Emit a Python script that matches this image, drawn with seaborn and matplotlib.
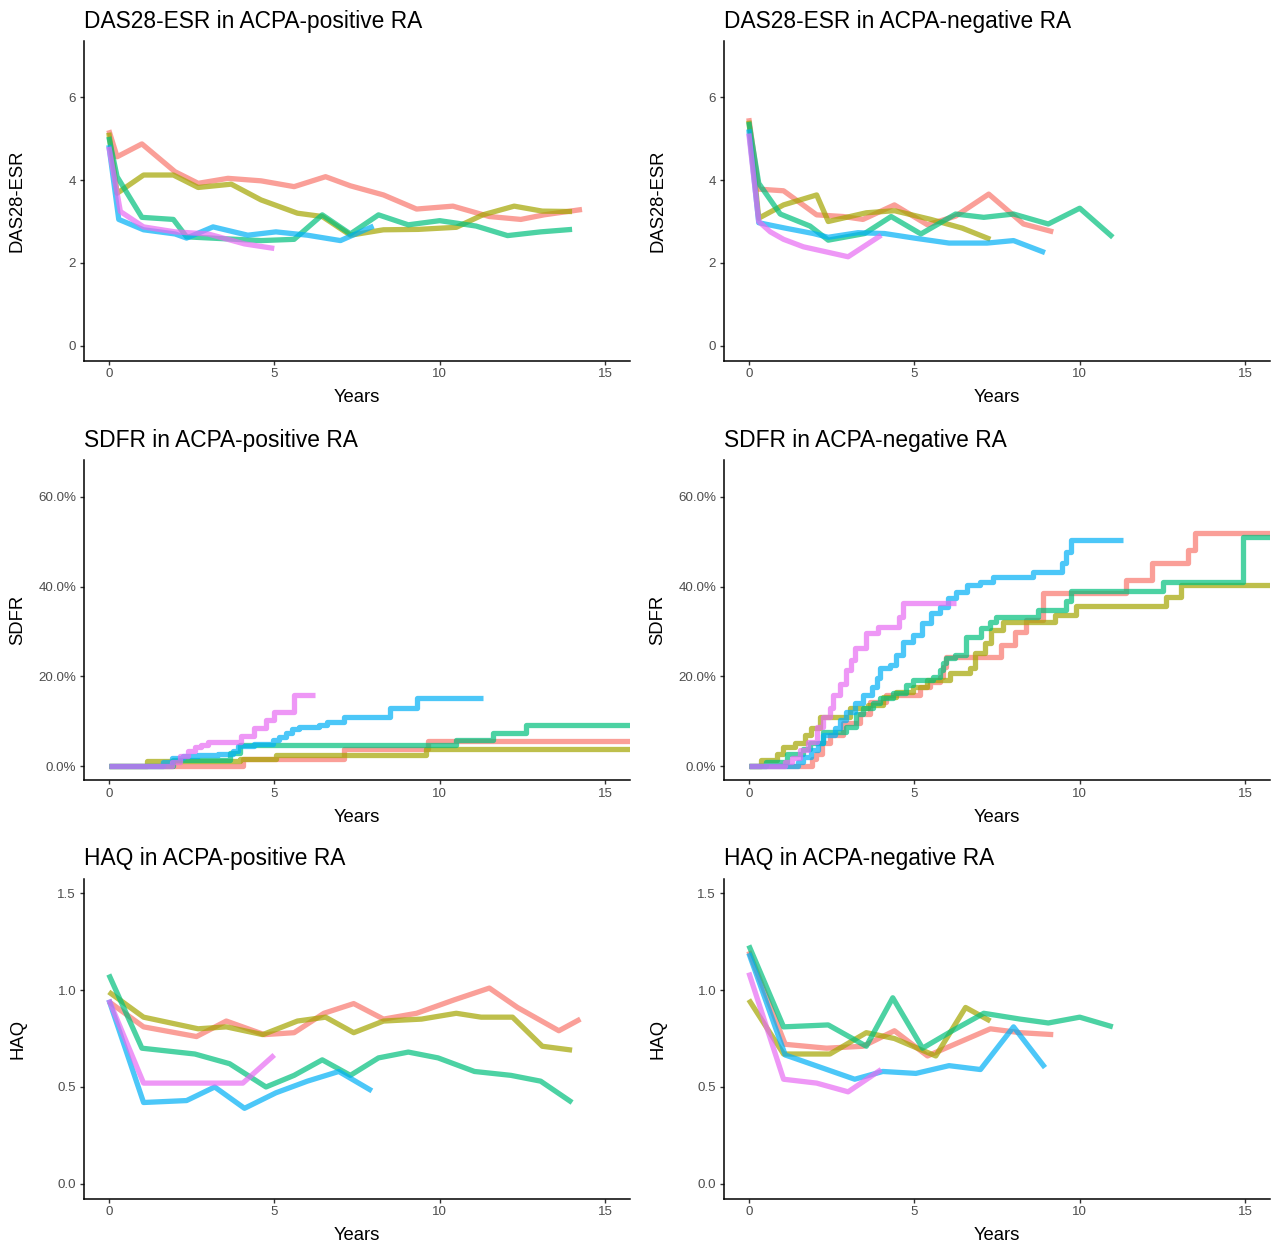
import numpy as np
import pandas as pd
import matplotlib
matplotlib.use("Agg")
import matplotlib.pyplot as plt
import matplotlib.ticker as mticker
import seaborn as sns

sns.set_style("white")
plt.rcParams.update(
    {
        "font.family": ["Liberation Sans", "DejaVu Sans"],
        "lines.solid_capstyle": "butt",
        "lines.solid_joinstyle": "round",
        "axes.linewidth": 1.1,
        "xtick.major.size": 3.2,
        "ytick.major.size": 3.2,
        "xtick.major.width": 1.0,
        "ytick.major.width": 1.0,
        "xtick.color": "#333333",
        "ytick.color": "#333333",
        "xtick.labelcolor": "#4D4D4D",
        "ytick.labelcolor": "#4D4D4D",
        "xtick.major.pad": 2.5,
        "ytick.major.pad": 2.5,
    }
)

# ── Palette (ggplot default hue, 5 groups) ───────────────────────────────────
GROUPS = ["Group 1", "Group 2", "Group 3", "Group 4", "Group 5"]
PAL = dict(zip(GROUPS, ["#F8766D", "#A3A500", "#00BF7D", "#00B0F6", "#E76BF3"]))

# ── DAS28-ESR, ACPA-positive ─────────────────────────────────────────────────
das_pos_t = [
    [0, 0.25, 1.0, 2.0, 2.7, 3.6, 4.6, 5.6, 6.55, 7.3, 8.3, 9.3, 10.4, 11.5, 12.45, 13.15, 14.3],
    [0, 0.25, 1.05, 1.95, 2.7, 3.7, 4.6, 5.7, 6.45, 7.3, 8.3, 9.35, 10.5, 11.3, 12.25, 13.1, 14.0],
    [0, 0.25, 1.0, 1.95, 2.35, 4.6, 5.6, 6.45, 7.3, 8.15, 9.05, 10.0, 11.1, 12.05, 13.05, 14.0],
    [0, 0.3, 1.05, 2.0, 2.35, 3.15, 4.2, 5.05, 6.0, 7.0, 8.0],
    [0, 0.35, 1.05, 2.0, 3.0, 4.1, 5.0],
]
das_pos_v = [
    [5.2, 4.56, 4.87, 4.2, 3.92, 4.04, 3.98, 3.84, 4.08, 3.86, 3.64, 3.30, 3.37, 3.12, 3.05, 3.16, 3.29],
    [5.14, 3.68, 4.12, 4.12, 3.82, 3.90, 3.52, 3.20, 3.12, 2.67, 2.80, 2.81, 2.86, 3.16, 3.37, 3.25, 3.24],
    [5.04, 4.08, 3.10, 3.05, 2.63, 2.54, 2.57, 3.16, 2.70, 3.16, 2.92, 3.02, 2.89, 2.66, 2.75, 2.81],
    [4.84, 3.05, 2.80, 2.70, 2.60, 2.87, 2.67, 2.75, 2.67, 2.54, 2.89],
    [4.80, 3.24, 2.87, 2.75, 2.70, 2.46, 2.35],
]

# ── DAS28-ESR, ACPA-negative ─────────────────────────────────────────────────
das_neg_t = [
    [0, 0.3, 1.05, 2.05, 2.85, 3.45, 4.4, 5.4, 6.25, 7.25, 8.3, 9.2],
    [0, 0.3, 1.05, 2.05, 2.4, 3.55, 4.4, 5.5, 6.45, 7.3],
    [0, 0.3, 0.95, 1.85, 2.4, 3.5, 4.3, 5.2, 6.25, 7.1, 8.0, 9.05, 10.0, 11.0],
    [0, 0.3, 1.1, 1.95, 2.4, 3.3, 4.1, 5.0, 6.05, 7.2, 8.0, 8.95],
    [0, 0.3, 0.65, 1.05, 1.65, 3.0, 4.0],
]
das_neg_v = [
    [5.49, 3.78, 3.74, 3.16, 3.12, 3.05, 3.40, 2.92, 3.13, 3.66, 2.94, 2.75],
    [5.43, 3.08, 3.40, 3.64, 3.0, 3.21, 3.26, 3.05, 2.84, 2.57],
    [5.40, 3.92, 3.18, 2.89, 2.55, 2.71, 3.12, 2.70, 3.18, 3.10, 3.18, 2.94, 3.32, 2.62],
    [5.22, 2.97, 2.84, 2.71, 2.62, 2.73, 2.71, 2.60, 2.48, 2.48, 2.54, 2.25],
    [5.12, 3.0, 2.75, 2.57, 2.39, 2.15, 2.67],
]

# ── SDFR (cumulative %, step curves), ACPA-positive ─────────────────────────
sdfr_pos_t = [
    [0, 4.05, 7.1, 9.65, 16],
    [0, 1.15, 3.95, 5.05, 9.6, 16],
    [0, 1.95, 3.65, 3.95, 10.5, 11.6, 12.6, 16],
    [0, 1.65, 1.9, 2.25, 2.7, 3.3, 3.75, 3.9, 4.4, 4.95, 5.15, 5.35, 5.55, 5.75,
     6.35, 6.6, 7.1, 8.5, 9.3, 11.3],
    [0, 1.9, 2.15, 2.4, 2.6, 2.8, 3.0, 4.0, 4.4, 4.75, 5.0, 5.6, 6.22],
]
sdfr_pos_v = [
    [0, 1.6, 3.8, 5.6, 5.6],
    [0, 1.2, 1.5, 2.5, 3.7, 3.7],
    [0, 1.3, 3.0, 4.6, 5.9, 7.4, 9.2, 9.2],
    [0, 1.0, 1.8, 2.2, 2.5, 2.8, 3.4, 4.5, 5.0, 5.8, 6.5, 7.3, 8.2, 8.8,
     9.2, 9.9, 10.9, 12.9, 15.2, 15.2],
    [0, 1.0, 2.2, 3.4, 4.2, 4.8, 5.4, 6.6, 8.4, 10.3, 12.1, 15.8, 15.8],
]

# ── SDFR (cumulative %, step curves), ACPA-negative ─────────────────────────
sdfr_neg_t = [
    [0, 1.9, 2.04, 2.2, 2.45, 2.85, 3.35, 3.66, 4.16, 5.17, 5.47, 5.77, 5.87, 5.97,
     7.63, 8.04, 8.39, 8.89, 11.41, 12.17, 13.28, 13.48, 16],
    [0, 0.38, 0.84, 1.04, 1.39, 1.69, 1.89, 2.15, 3.05, 3.6, 4.06, 4.46, 4.96, 5.37,
     6.07, 6.68, 6.83, 7.13, 7.33, 7.68, 9.24, 9.9, 12.61, 13.07, 16],
    [0, 0.53, 1.14, 1.64, 1.84, 2.25, 2.95, 3.25, 3.45, 3.76, 3.96, 4.36, 4.76, 4.96,
     5.57, 5.77, 5.87, 5.97, 6.22, 6.55, 7.03, 7.28, 7.48, 8.74, 9.6, 9.75, 12.52,
     14.93, 16],
    [0, 1.5, 1.64, 1.89, 2.09, 2.25, 2.6, 2.75, 2.95, 3.2, 3.45, 3.71, 3.86, 3.96,
     4.26, 4.46, 4.66, 4.96, 5.22, 5.52, 5.77, 6.02, 6.27, 6.58, 6.98, 7.38, 8.59,
     9.45, 9.6, 9.75, 11.31],
    [0, 1.1, 1.3, 1.55, 1.8, 2.05, 2.25, 2.45, 2.55, 2.75, 2.95, 3.1, 3.2, 3.55,
     3.9, 4.55, 4.65, 6.27],
]
sdfr_neg_v = [
    [0, 1.5, 2.8, 5.1, 6.9, 9.5, 11.7, 14.3, 15.8, 17.7, 18.8, 19.9, 22.1, 24.2,
     27.0, 29.9, 32.6, 38.5, 41.5, 45.2, 48.2, 51.9, 51.9],
    [0, 1.3, 2.8, 4.3, 5.1, 6.9, 8.4, 11.0, 12.9, 13.6, 15.5, 16.6, 17.7, 19.2,
     20.7, 21.8, 25.3, 27.4, 30.3, 32.2, 33.7, 35.7, 37.7, 40.4, 40.4],
    [0, 1.0, 2.8, 3.9, 5.1, 7.6, 8.8, 11.7, 12.9, 14.0, 15.1, 16.2, 18.1, 19.2,
     19.9, 21.4, 22.9, 24.0, 24.7, 28.8, 30.7, 32.2, 33.3, 34.8, 36.7, 39.0, 41.1,
     51.1, 51.1],
    [0, 1.0, 2.1, 3.6, 5.1, 6.9, 8.4, 10.3, 12.1, 14.0, 15.8, 17.7, 19.6, 21.8,
     22.5, 24.7, 27.7, 29.2, 31.8, 34.0, 35.5, 37.4, 38.9, 40.4, 41.1, 42.2, 43.3,
     45.2, 47.8, 50.4, 50.4],
    [0, 0.8, 1.7, 3.6, 5.4, 8.8, 11.0, 12.9, 15.8, 18.4, 21.4, 23.6, 26.2, 29.6,
     31.1, 33.3, 36.3, 36.3],
]

# ── HAQ, ACPA-positive ───────────────────────────────────────────────────────
haq_pos_t = [
    [0, 1.05, 2.65, 3.55, 4.7, 5.6, 6.5, 7.4, 8.3, 9.3, 10.45, 11.5, 12.35, 13.6, 14.25],
    [0, 1.05, 2.7, 3.55, 4.65, 5.7, 6.55, 7.4, 8.3, 9.45, 10.5, 11.25, 12.2, 13.1, 14.0],
    [0, 1.0, 2.6, 3.65, 4.75, 5.6, 6.45, 7.3, 8.15, 9.05, 9.95, 11.05, 12.15, 13.05, 14.0],
    [0, 1.05, 2.35, 3.2, 4.1, 5.05, 6.0, 6.95, 7.95],
    [0, 1.05, 2.6, 4.05, 5.0],
]
haq_pos_v = [
    [0.94, 0.81, 0.76, 0.84, 0.77, 0.78, 0.88, 0.93, 0.85, 0.88, 0.95, 1.01, 0.91, 0.79, 0.85],
    [0.99, 0.86, 0.80, 0.81, 0.77, 0.84, 0.86, 0.78, 0.84, 0.85, 0.88, 0.86, 0.86, 0.71, 0.69],
    [1.08, 0.70, 0.67, 0.62, 0.50, 0.56, 0.64, 0.56, 0.65, 0.68, 0.65, 0.58, 0.56, 0.53, 0.42],
    [0.95, 0.42, 0.43, 0.50, 0.39, 0.47, 0.53, 0.58, 0.48],
    [0.95, 0.52, 0.52, 0.52, 0.665],
]

# ── HAQ, ACPA-negative ───────────────────────────────────────────────────────
haq_neg_t = [
    [0, 1.1, 2.35, 3.45, 4.4, 5.4, 6.35, 7.3, 8.2, 9.2],
    [0, 1.05, 2.45, 3.55, 4.4, 5.65, 6.55, 7.3],
    [0, 1.05, 2.4, 3.55, 4.35, 5.25, 6.15, 7.1, 8.2, 9.05, 10.0, 11.0],
    [0, 1.1, 3.2, 4.05, 5.05, 6.05, 7.0, 8.0, 8.95],
    [0, 1.05, 2.05, 3.0, 4.0],
]
haq_neg_v = [
    [1.20, 0.72, 0.70, 0.71, 0.79, 0.66, 0.73, 0.80, 0.78, 0.77],
    [0.95, 0.67, 0.67, 0.78, 0.75, 0.66, 0.91, 0.84],
    [1.23, 0.81, 0.82, 0.71, 0.96, 0.70, 0.79, 0.88, 0.85, 0.83, 0.86, 0.81],
    [1.19, 0.665, 0.54, 0.58, 0.57, 0.61, 0.59, 0.81, 0.60],
    [1.09, 0.54, 0.52, 0.475, 0.59],
]


def to_long(times, values):
    rows = []
    for g, ts, vs in zip(GROUPS, times, values):
        for t, v in zip(ts, vs):
            rows.append((g, t, v))
    return pd.DataFrame(rows, columns=["group", "years", "value"])


W, H = 1280, 1257
fig = plt.figure(figsize=(W / 100, H / 100), dpi=100)


def px_axes(x0, y0, x1, y1):
    return fig.add_axes([x0 / W, 1 - y1 / H, (x1 - x0) / W, (y1 - y0) / H])


COLS = [(84, 630), (724, 1270)]
ROWS = [(41, 360.5), (460, 780), (878.5, 1198.5)]

panels = [
    # (row, col, times, values, title, ylabel, ylim, yticks, fmt, step)
    (0, 0, das_pos_t, das_pos_v, "DAS28-ESR in ACPA-positive RA", "DAS28-ESR",
     (-0.35, 7.35), [0, 2, 4, 6], "{:.0f}", False),
    (0, 1, das_neg_t, das_neg_v, "DAS28-ESR in ACPA-negative RA", "DAS28-ESR",
     (-0.35, 7.35), [0, 2, 4, 6], "{:.0f}", False),
    (1, 0, sdfr_pos_t, sdfr_pos_v, "SDFR in ACPA-positive RA", "SDFR",
     (-3.1, 68.2), [0, 20, 40, 60], "{:.1f}%", True),
    (1, 1, sdfr_neg_t, sdfr_neg_v, "SDFR in ACPA-negative RA", "SDFR",
     (-3.1, 68.2), [0, 20, 40, 60], "{:.1f}%", True),
    (2, 0, haq_pos_t, haq_pos_v, "HAQ in ACPA-positive RA", "HAQ",
     (-0.075, 1.575), [0, 0.5, 1.0, 1.5], "{:.1f}", False),
    (2, 1, haq_neg_t, haq_neg_v, "HAQ in ACPA-negative RA", "HAQ",
     (-0.075, 1.575), [0, 0.5, 1.0, 1.5], "{:.1f}", False),
]

for row, col, times, values, title, ylabel, ylim, yticks, fmt, step in panels:
    x0, x1 = COLS[col]
    y0, y1 = ROWS[row]
    ax = px_axes(x0, y0, x1, y1)
    df = to_long(times, values)
    extra = {"drawstyle": "steps-post"} if step else {}
    sns.lineplot(
        data=df,
        x="years",
        y="value",
        hue="group",
        hue_order=GROUPS,
        palette=PAL,
        estimator=None,
        sort=True,
        legend=False,
        linewidth=3.8,
        alpha=0.7,
        ax=ax,
        **extra,
    )
    ax.set_xlim(-0.75, 15.75)
    ax.set_ylim(*ylim)
    ax.set_xticks([0, 5, 10, 15])
    ax.set_yticks(yticks)
    ax.yaxis.set_major_formatter(mticker.FuncFormatter(lambda v, _, f=fmt: f.format(v)))
    ax.tick_params(axis="both", labelsize=9.6, direction="out", left=True, bottom=True)
    for side in ("top", "right"):
        ax.spines[side].set_visible(False)
    for side in ("left", "bottom"):
        ax.spines[side].set_color("black")
    ax.set_title(title, loc="left", fontsize=16.4, pad=9.5, color="black")
    ax.set_xlabel("Years", fontsize=13.3, color="black")
    ax.set_ylabel(ylabel, fontsize=13.3, color="black")
    ax.xaxis.set_label_coords(0.5, -0.09)
    ax.yaxis.set_label_coords(-58 / (x1 - x0), 0.5)

fig.savefig("out.png", dpi=100)
